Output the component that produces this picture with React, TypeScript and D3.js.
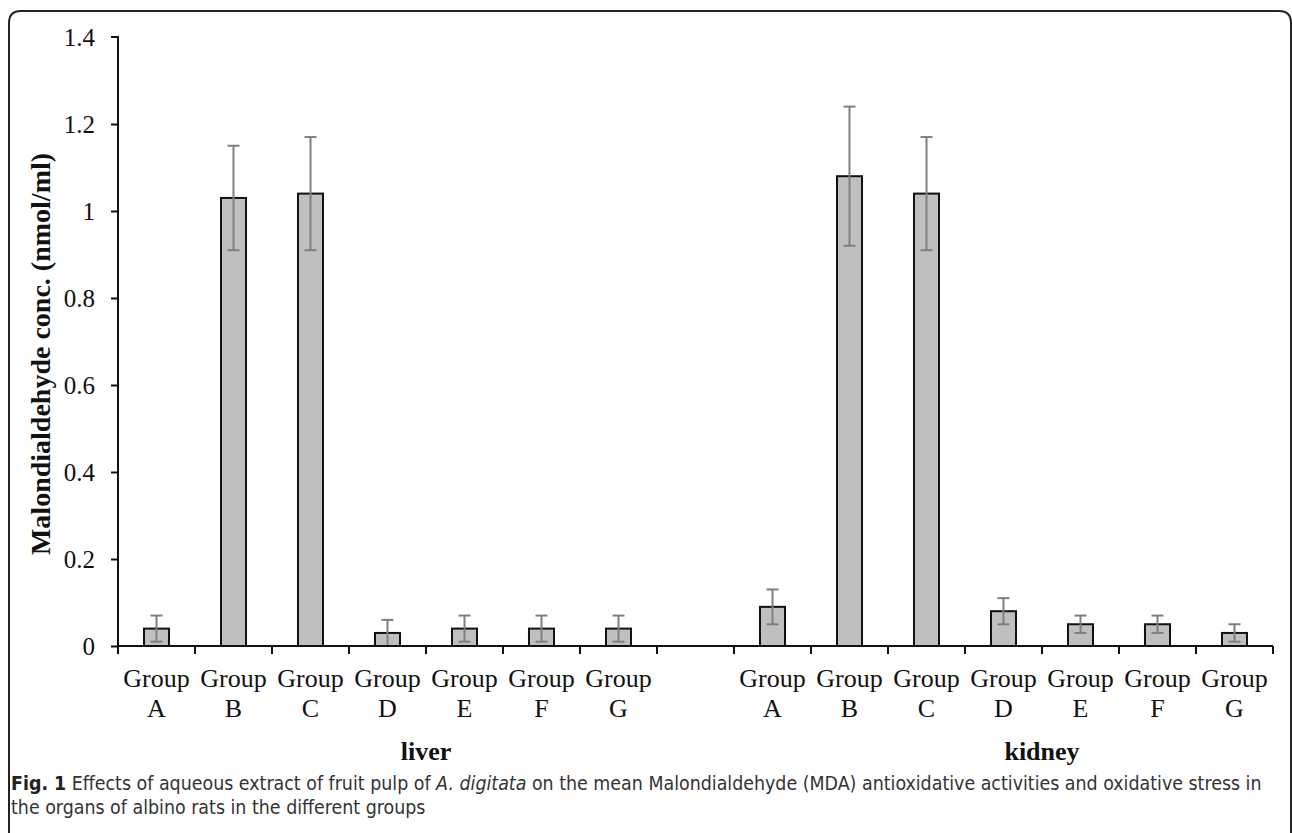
import React, { useEffect, useRef } from "react";
import * as d3 from "d3";

const W = 1292;
const H = 833;

// chart data
const organs = ["liver", "kidney"];
const groups = ["A", "B", "C", "D", "E", "F", "G"];
const liverMeans = [0.04, 1.03, 1.04, 0.03, 0.04, 0.04, 0.04];
const liverErrors = [0.03, 0.12, 0.13, 0.03, 0.03, 0.03, 0.03];
const kidneyMeans = [0.09, 1.08, 1.04, 0.08, 0.05, 0.05, 0.03];
const kidneyErrors = [0.04, 0.16, 0.13, 0.03, 0.02, 0.02, 0.02];
const yTicks = [0, 0.2, 0.4, 0.6, 0.8, 1, 1.2, 1.4];

const captionLine1Rest = " Effects of aqueous extract of fruit pulp of ";
const captionItalic = "A. digitata";
const captionLine1End =
  " on the mean Malondialdehyde (MDA) antioxidative activities and oxidative stress in";
const captionLine2 = "the organs of albino rats in the different groups";

const MARGIN = { left: 118, right: W - 1273, top: 37, bottom: H - 646 };
const SERIF = "'Liberation Serif', 'Times New Roman', serif";
const CAPTION_FONT = "'DejaVu Sans Condensed', 'DejaVu Sans', sans-serif";

// slots: 7 liver, one blank, 7 kidney
const slots = [
  ...groups.map((g, i) => ({ key: `liver-${g}`, group: g, organ: 0, mean: liverMeans[i], err: liverErrors[i] })),
  { key: "blank", group: "", organ: -1, mean: NaN, err: NaN },
  ...groups.map((g, i) => ({ key: `kidney-${g}`, group: g, organ: 1, mean: kidneyMeans[i], err: kidneyErrors[i] })),
];

export default function App() {
  const axesRef = useRef<SVGGElement>(null);

  const xScale = d3
    .scaleBand()
    .domain(slots.map((s) => s.key))
    .range([MARGIN.left, W - MARGIN.right])
    .paddingInner(0)
    .paddingOuter(0);
  const yScale = d3.scaleLinear().domain([0, 1.4]).range([H - MARGIN.bottom, MARGIN.top]);

  const bw = xScale.bandwidth();
  const barW = bw * 0.325;

  useEffect(() => {
    const g = d3.select(axesRef.current);
    g.selectAll("*").remove();

    const yAxis = d3
      .axisLeft(yScale)
      .tickValues(yTicks)
      .tickSize(7)
      .tickPadding(16)
      .tickFormat((d) => d3.format("~g")(d as number));
    const ya = g.append("g").attr("transform", `translate(${MARGIN.left},0)`).call(yAxis);
    ya.select(".domain").attr("d", `M-7,${yScale(1.4)}H0V${yScale(0)}`);
    ya.selectAll("line").attr("stroke", "#111").attr("stroke-width", 2);
    ya.select(".domain").attr("stroke", "#111").attr("stroke-width", 2);
    ya.selectAll("text")
      .attr("font-family", SERIF)
      .attr("font-size", 25)
      .attr("fill", "#111")
      .attr("dy", "0.33em");
    ya.selectAll(".tick").filter((d) => d === 1.4).select("line").remove();

    // x axis with boundary ticks
    const y0 = yScale(0);
    const xa = g.append("g");
    xa.append("line")
      .attr("x1", MARGIN.left)
      .attr("x2", W - MARGIN.right)
      .attr("y1", y0)
      .attr("y2", y0)
      .attr("stroke", "#111")
      .attr("stroke-width", 2);
    const bounds = d3.range(slots.length + 1).map((i) => MARGIN.left + i * bw);
    xa.selectAll("line.tk")
      .data(bounds)
      .join("line")
      .attr("class", "tk")
      .attr("x1", (d) => d)
      .attr("x2", (d) => d)
      .attr("y1", y0)
      .attr("y2", y0 + 8)
      .attr("stroke", "#111")
      .attr("stroke-width", 2);
  }, []);

  const y0 = yScale(0);

  return (
    <svg width={W} height={H} style={{ position: "absolute", left: 0, top: 0, background: "#fff" }}>
      <path
        d={`M9,${H + 5}V23Q9,11 21,11H1279Q1291,11 1291,23V${H + 5}`}
        fill="none"
        stroke="#222"
        strokeWidth={2}
      />
      <g>
        {slots
          .filter((s) => s.organ >= 0)
          .map((s) => {
            const cx = (xScale(s.key) as number) + bw / 2;
            return (
              <g key={s.key}>
                <rect
                  x={cx - barW / 2}
                  y={yScale(s.mean)}
                  width={barW}
                  height={y0 - yScale(s.mean)}
                  fill="#bfbfbf"
                  stroke="#111"
                  strokeWidth={2}
                />
                <line x1={cx} x2={cx} y1={yScale(s.mean + s.err)} y2={yScale(s.mean - s.err)} stroke="#7f7f7f" strokeWidth={2} />
                <line x1={cx - 6} x2={cx + 6} y1={yScale(s.mean + s.err)} y2={yScale(s.mean + s.err)} stroke="#7f7f7f" strokeWidth={2} />
                <line x1={cx - 6} x2={cx + 6} y1={yScale(s.mean - s.err)} y2={yScale(s.mean - s.err)} stroke="#7f7f7f" strokeWidth={2} />
              </g>
            );
          })}
      </g>
      <g ref={axesRef} />
      <g fontFamily={SERIF} fontSize={26} fill="#111" textAnchor="middle">
        {slots
          .filter((s) => s.organ >= 0)
          .map((s) => {
            const cx = (xScale(s.key) as number) + bw / 2;
            return (
              <text key={s.key} x={cx} y={687}>
                <tspan x={cx}>Group</tspan>
                <tspan x={cx} y={717}>
                  {s.group}
                </tspan>
              </text>
            );
          })}
        {organs.map((o, i) => {
          const keys = slots.filter((s) => s.organ === i).map((s) => s.key);
          const left = xScale(keys[0]) as number;
          // the spreadsheet centres each group label over eight slots
          const cx = left + ((groups.length + 1) * bw) / 2;
          return (
            <text key={o} x={cx} y={760} fontWeight="bold">
              {o}
            </text>
          );
        })}
      </g>
      <text
        transform={`translate(50,354) rotate(-90)`}
        textAnchor="middle"
        fontFamily={SERIF}
        fontWeight="bold"
        fontSize={28}
        fill="#111"
      >
        Malondialdehyde conc. (nmol/ml)
      </text>
      <g fontFamily={CAPTION_FONT} fontSize={19.4} fill="#333">
        <text x={11} y={790}>
          <tspan fontWeight="bold" fill="#222">Fig. 1</tspan>
          <tspan>{captionLine1Rest}</tspan>
          <tspan fontStyle="italic">{captionItalic}</tspan>
          <tspan>{captionLine1End}</tspan>
        </text>
        <text x={11} y={814}>
          {captionLine2}
        </text>
      </g>
    </svg>
  );
}
